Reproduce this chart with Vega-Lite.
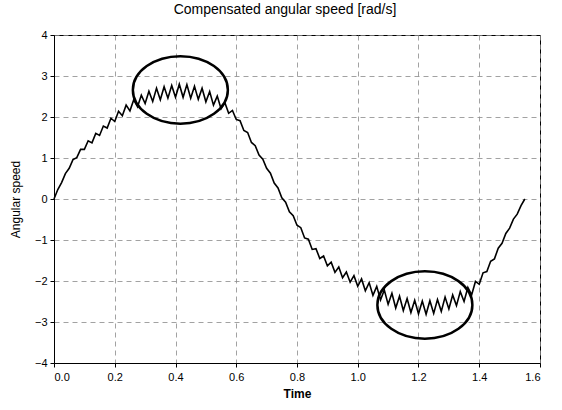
{
  "$schema": "https://vega.github.io/schema/vega-lite/v6.json",
  "autosize": "none",
  "width": 486,
  "height": 328,
  "padding": {"left": 54, "top": 35, "right": 22, "bottom": 47},
  "background": "white",
  "title": {"text": "Compensated angular speed [rad/s]", "fontSize": 14, "font": "Liberation Sans", "fontWeight": "normal", "color": "black", "offset": 12, "dx": -12},
  "config": {
    "view": {"stroke": "black", "strokeWidth": 1},
    "axis": {"labelFont": "Liberation Sans", "titleFont": "Liberation Sans", "labelColor": "black", "titleColor": "black", "domainColor": "black", "tickColor": "black", "gridColor": "#8a8a8a", "gridDash": [5, 4], "gridWidth": 0.8, "labelFontSize": 11}
  },
  "datasets": {
    "curve": [
      {"t":0,"v":0},{"t":0.0125,"v":0.23},{"t":0.025,"v":0.40},{"t":0.0375,"v":0.62},{"t":0.05,"v":0.75},{"t":0.0625,"v":0.96},{"t":0.075,"v":1.01},{"t":0.0875,"v":1.21},{"t":0.1,"v":1.21},{"t":0.1125,"v":1.42},{"t":0.125,"v":1.37},{"t":0.1375,"v":1.60},{"t":0.15,"v":1.55},{"t":0.1625,"v":1.78},{"t":0.175,"v":1.73},{"t":0.1875,"v":1.97},{"t":0.2,"v":1.89},{"t":0.2125,"v":2.14},{"t":0.225,"v":2.03},{"t":0.2375,"v":2.29},{"t":0.25,"v":2.15},{"t":0.2625,"v":2.42},{"t":0.275,"v":2.25},{"t":0.2875,"v":2.53},{"t":0.3,"v":2.33},{"t":0.3125,"v":2.63},{"t":0.325,"v":2.38},{"t":0.3375,"v":2.70},{"t":0.35,"v":2.42},{"t":0.3625,"v":2.74},{"t":0.375,"v":2.46},{"t":0.3875,"v":2.77},{"t":0.4,"v":2.48},{"t":0.4125,"v":2.80},{"t":0.425,"v":2.48},{"t":0.4375,"v":2.79},{"t":0.45,"v":2.46},{"t":0.4625,"v":2.75},{"t":0.475,"v":2.43},{"t":0.4875,"v":2.70},{"t":0.5,"v":2.37},{"t":0.5125,"v":2.62},{"t":0.525,"v":2.29},{"t":0.5375,"v":2.51},{"t":0.55,"v":2.20},{"t":0.5625,"v":2.35},{"t":0.575,"v":2.09},{"t":0.5875,"v":2.16},{"t":0.6,"v":1.94},{"t":0.6125,"v":1.91},{"t":0.625,"v":1.67},{"t":0.6375,"v":1.62},{"t":0.65,"v":1.38},{"t":0.6625,"v":1.30},{"t":0.675,"v":1.07},{"t":0.6875,"v":0.97},{"t":0.7,"v":0.75},{"t":0.7125,"v":0.63},{"t":0.725,"v":0.39},{"t":0.7375,"v":0.27},{"t":0.75,"v":0.03},{"t":0.7625,"v":-0.08},{"t":0.775,"v":-0.31},{"t":0.7875,"v":-0.41},{"t":0.8,"v":-0.64},{"t":0.8125,"v":-0.70},{"t":0.825,"v":-0.95},{"t":0.8375,"v":-0.98},{"t":0.85,"v":-1.23},{"t":0.8625,"v":-1.21},{"t":0.875,"v":-1.45},{"t":0.8875,"v":-1.39},{"t":0.9,"v":-1.63},{"t":0.9125,"v":-1.54},{"t":0.925,"v":-1.79},{"t":0.9375,"v":-1.66},{"t":0.95,"v":-1.92},{"t":0.9625,"v":-1.78},{"t":0.975,"v":-2.03},{"t":0.9875,"v":-1.87},{"t":1.0,"v":-2.13},{"t":1.0125,"v":-1.95},{"t":1.025,"v":-2.24},{"t":1.0375,"v":-2.04},{"t":1.05,"v":-2.35},{"t":1.0625,"v":-2.13},{"t":1.075,"v":-2.46},{"t":1.0875,"v":-2.22},{"t":1.1,"v":-2.57},{"t":1.1125,"v":-2.30},{"t":1.125,"v":-2.66},{"t":1.1375,"v":-2.37},{"t":1.15,"v":-2.72},{"t":1.1625,"v":-2.43},{"t":1.175,"v":-2.77},{"t":1.1875,"v":-2.47},{"t":1.2,"v":-2.80},{"t":1.2125,"v":-2.49},{"t":1.225,"v":-2.81},{"t":1.2375,"v":-2.48},{"t":1.25,"v":-2.79},{"t":1.2625,"v":-2.45},{"t":1.275,"v":-2.74},{"t":1.2875,"v":-2.39},{"t":1.3,"v":-2.68},{"t":1.3125,"v":-2.34},{"t":1.325,"v":-2.60},{"t":1.3375,"v":-2.26},{"t":1.35,"v":-2.50},{"t":1.3625,"v":-2.16},{"t":1.375,"v":-2.34},{"t":1.3875,"v":-2.01},{"t":1.4,"v":-2.08},{"t":1.4125,"v":-1.80},{"t":1.425,"v":-1.77},{"t":1.4375,"v":-1.52},{"t":1.45,"v":-1.46},{"t":1.4625,"v":-1.20},{"t":1.475,"v":-1.08},{"t":1.4875,"v":-0.84},{"t":1.5,"v":-0.71},{"t":1.5125,"v":-0.49},{"t":1.525,"v":-0.37},{"t":1.5375,"v":-0.16},{"t":1.55,"v":0.0}
    ],
    "marks": [
      {"t": 0.416, "v": 2.66},
      {"t": 1.221, "v": -2.585}
    ]
  },
  "layer": [
    {
      "data": {"name": "curve"},
      "mark": {"type": "line", "color": "black", "strokeWidth": 1.6},
      "encoding": {
        "x": {"field": "t", "type": "quantitative", "scale": {"domain": [0, 1.6], "nice": false},
          "axis": {"title": "Time", "titleFontSize": 12, "titleFontWeight": "bold", "values": [0, 0.2, 0.4, 0.6, 0.8, 1.0, 1.2, 1.4, 1.6], "format": ".1f", "tickSize": 4, "labelPadding": 4, "titlePadding": 6}},
        "y": {"field": "v", "type": "quantitative", "scale": {"domain": [-4, 4], "nice": false},
          "axis": {"title": "Angular speed", "titleFontSize": 12, "titleFontWeight": "normal", "values": [-4, -3, -2, -1, 0, 1, 2, 3, 4], "tickSize": 4, "labelPadding": 3, "titlePadding": 12}}
      }
    },
    {
      "data": {"name": "marks"},
      "mark": {"type": "point", "shape": "M -1 0 A 1 0.71 0 1 1 1 0 A 1 0.71 0 1 1 -1 0 Z", "size": 9025, "filled": false, "stroke": "black", "strokeWidth": 2.5, "opacity": 1},
      "encoding": {
        "x": {"field": "t", "type": "quantitative"},
        "y": {"field": "v", "type": "quantitative"}
      }
    }
  ]
}
